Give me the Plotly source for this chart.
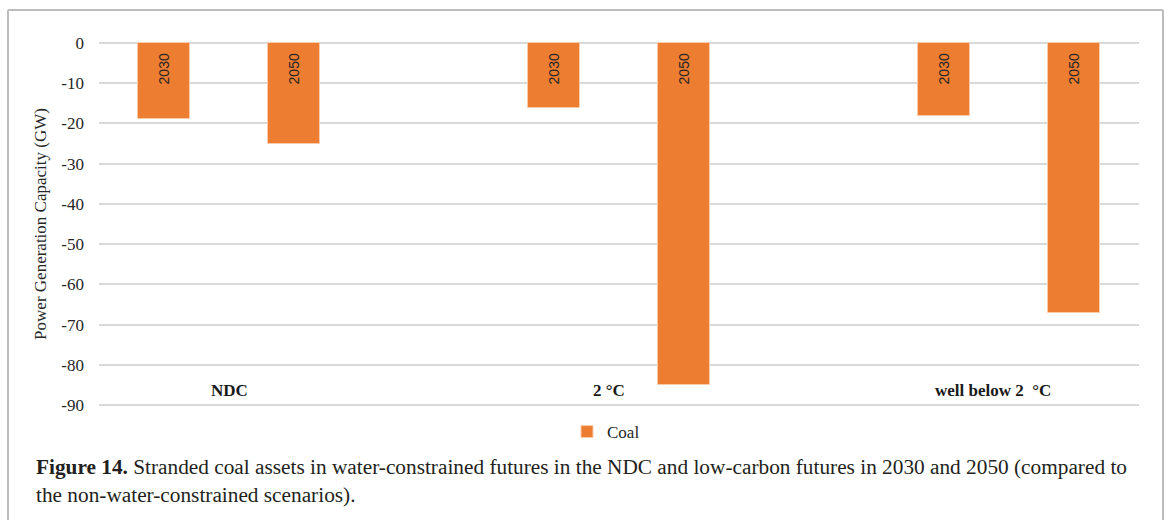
import plotly.graph_objects as go

# Stranded coal capacity (GW) relative to the non-water-constrained runs
scenarios = ["NDC", "2 °C", "well below 2  °C"]
years = ["2030", "2050"]
coal_ndc = [-19.0, -25.0]
coal_2c = [-16.2, -85.0]
coal_wb2c = [-18.1, -67.2]
y_ticks = [0, -10, -20, -30, -40, -50, -60, -70, -80, -90]

# slot layout: two year bars per scenario followed by an empty slot
series = [coal_ndc, coal_2c, coal_wb2c]
xs, ys, labels = [], [], []
for g, vals in enumerate(series):
    for k, v in enumerate(vals):
        xs.append(g * 3 + k)
        ys.append(v)
        # trailing no-break spaces keep the rotated year clear of the zero line
        labels.append(years[k] + "\u00a0\u00a0")

serif = "Liberation Serif, Times New Roman, serif"
orange = "#ED7D31"

W, H = 1167, 520
L, R, T, B = 99, 28, 41, 113


def px_x(p):
    return (p - L) / (W - L - R)


def px_y(p):
    return 1 - (p - T) / (H - T - B)


fig = go.Figure()
fig.add_trace(go.Bar(
    x=xs, y=ys, name="Coal", width=0.4,
    marker=dict(color=orange, line=dict(color="#F8CBAD", width=1)),
    text=labels, textposition="inside", textangle=-90,
    insidetextanchor="start",
    textfont=dict(family="Liberation Sans, Arial, sans-serif", size=14, color="#262626"),
    showlegend=True,
))

# scenario names placed across each pair of bars near the bottom of the axis
label_shift = [0, -10, -16]
for g, name in enumerate(scenarios):
    fig.add_annotation(
        x=g * 3 + 0.5, y=-86.4, xref="x", yref="y", text=f"<b>{name}</b>",
        showarrow=False, xshift=label_shift[g],
        font=dict(family=serif, size=17, color="#1a1a1a"),
    )

caption = ("<b>Figure 14.</b> Stranded coal assets in water-constrained futures in the NDC "
           "and low-carbon futures in 2030 and 2050 (compared to<br>"
           "the non-water-constrained scenarios).")
fig.add_annotation(
    x=px_x(34), y=px_y(481), xref="paper", yref="paper", text=caption, showarrow=False,
    xanchor="left", yanchor="middle", align="left",
    font=dict(family=serif, size=21.3, color="#231F20"),
)

# outer frame around the figure panel (top, left and right edges)
frame = dict(color="#BDBDBD", width=2)
for x0, y0, x1, y1 in [(8, 10, 1163, 10), (8, 10, 8, 530), (1163, 10, 1163, 530)]:
    fig.add_shape(type="line", xref="paper", yref="paper",
                  x0=px_x(x0), y0=px_y(y0), x1=px_x(x1), y1=px_y(y1), line=frame)

fig.update_layout(
    width=W, height=H,
    margin=dict(l=L, r=R, t=T, b=B),
    paper_bgcolor="white", plot_bgcolor="white",
    bargap=0,
    xaxis=dict(range=[-0.5, 7.5], showticklabels=False, showgrid=False,
               zeroline=False, showline=False, fixedrange=True),
    yaxis=dict(range=[-90.5, 0.5], tickvals=y_ticks, ticktext=[str(t) for t in y_ticks],
               showgrid=True, gridcolor="#D9D9D9", gridwidth=1.5,
               zeroline=True, zerolinecolor="#D9D9D9", zerolinewidth=1.5,
               showline=False, ticks="", ticklabelstandoff=14,
               tickfont=dict(family=serif, size=17, color="#262626"),
               title=dict(text="Power Generation Capacity (GW)", standoff=10,
                          font=dict(family=serif, size=17, color="#262626"))),
    legend=dict(orientation="h", x=px_x(606), xanchor="center", y=px_y(414), yanchor="top",
                font=dict(family=serif, size=17, color="#262626"),
                itemwidth=30),
    showlegend=True,
)

fig.write_html("out.html", config={"displayModeBar": False})
